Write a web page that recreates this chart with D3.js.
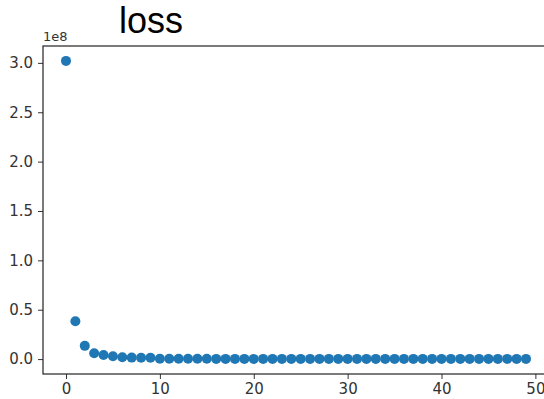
<!DOCTYPE html>
<html>
<head>
<meta charset="utf-8">
<script src="https://cdn.jsdelivr.net/npm/d3@7"></script>
<style>
  html, body { margin: 0; padding: 0; background: #fff; }
  svg { display: block; }
</style>
</head>
<body>
<svg id="chart" width="544" height="399"></svg>
<script>
// ---- data ----
const epochs = d3.range(0, 50);
const lossValues = [
  3.02, 0.384, 0.134, 0.060, 0.042, 0.028, 0.018, 0.015, 0.014, 0.013,
  0.004, 0.003, 0.003, 0.003, 0.003, 0.003, 0.002, 0.002, 0.002, 0.002,
  0.002, 0.002, 0.002, 0.002, 0.002, 0.002, 0.002, 0.002, 0.002, 0.002,
  0.002, 0.002, 0.002, 0.002, 0.002, 0.002, 0.002, 0.002, 0.002, 0.002,
  0.002, 0.002, 0.002, 0.002, 0.002, 0.002, 0.002, 0.002, 0.002, 0.002
]; // in units of 1e8
const xTicks = [0, 10, 20, 30, 40, 50];
const yTicks = [0.0, 0.5, 1.0, 1.5, 2.0, 2.5, 3.0];
const titleText = "loss";
const offsetText = "1e8";

// ---- layout ----
const svg = d3.select("#chart");
const mLeft = 43, mRight = 549, mTop = 46, mBottom = 374;

const x = d3.scaleLinear().domain([-2.45, 51.45]).range([mLeft, mRight]);
const y = d3.scaleLinear().domain([-0.151, 3.171]).range([mBottom, mTop]);

const tickColor = "#333";
const fontTick = "'DejaVu Sans', sans-serif";

// points
svg.append("g")
  .selectAll("circle")
  .data(epochs)
  .join("circle")
  .attr("cx", d => x(d))
  .attr("cy", d => y(lossValues[d]))
  .attr("r", 5)
  .attr("fill", "#1f77b4");

// axes
const xAxis = d3.axisBottom(x).tickValues(xTicks).tickFormat(d3.format("d")).tickSize(5).tickPadding(4);
const yAxis = d3.axisLeft(y).tickValues(yTicks).tickFormat(d3.format(".1f")).tickSize(5).tickPadding(5);

const gx = svg.append("g").attr("transform", `translate(0,${mBottom})`).call(xAxis);
const gy = svg.append("g").attr("transform", `translate(${mLeft},0)`).call(yAxis);

[gx, gy].forEach(g => {
  g.select(".domain").remove();
  g.selectAll(".tick line").attr("stroke", tickColor).attr("stroke-width", 1);
  g.selectAll(".tick text")
    .attr("fill", tickColor)
    .style("font-family", fontTick)
    .style("font-size", "15px");
});

// spines (frame)
svg.append("rect")
  .attr("x", mLeft).attr("y", mTop)
  .attr("width", mRight - mLeft).attr("height", mBottom - mTop)
  .attr("fill", "none").attr("stroke", "#222").attr("stroke-width", 1.2);

// offset text
svg.append("text")
  .attr("x", mLeft).attr("y", 41)
  .attr("fill", tickColor)
  .style("font-family", fontTick)
  .style("font-size", "13px")
  .text(offsetText);

// title
svg.append("text")
  .attr("x", 151).attr("y", 33)
  .attr("text-anchor", "middle")
  .attr("fill", "#000")
  .style("font-family", "'Liberation Sans', Arial, sans-serif")
  .style("font-size", "36px")
  .text(titleText);
</script>
</body>
</html>
